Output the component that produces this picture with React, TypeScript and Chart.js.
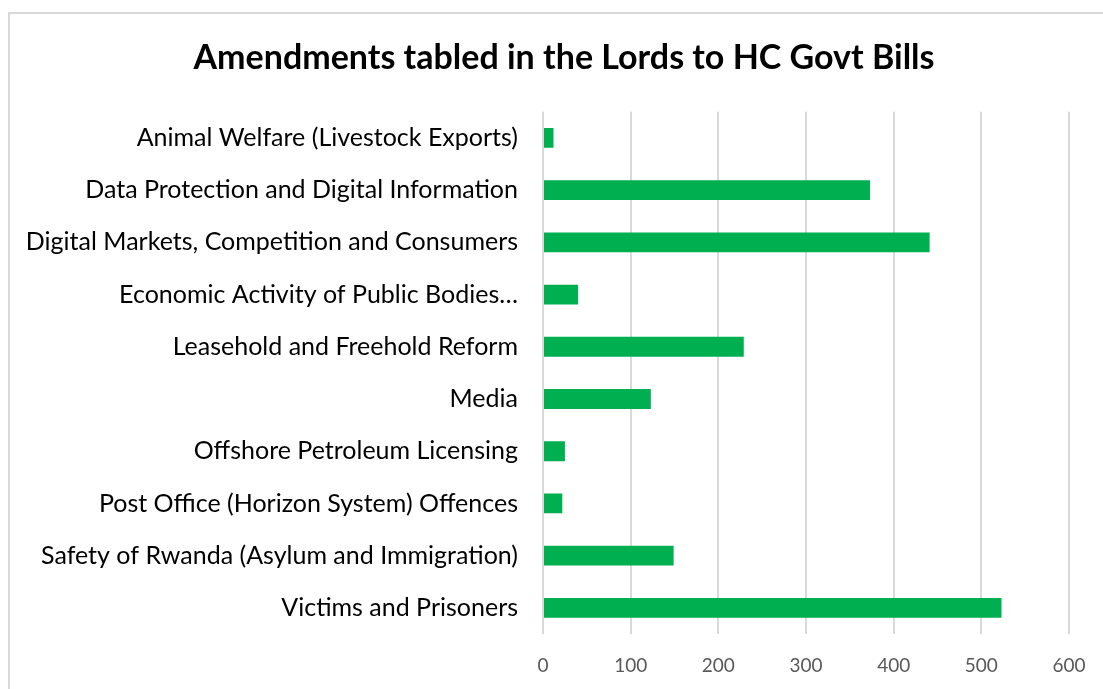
import React, { useEffect, useRef } from "react";
import { Chart, registerables } from "chart.js";

Chart.register(...registerables);

const TITLE = "Amendments tabled in the Lords to HC Govt Bills";
const categories = [
  "Animal Welfare (Livestock Exports)",
  "Data Protection and Digital Information",
  "Digital Markets, Competition and Consumers",
  "Economic Activity of Public Bodies…",
  "Leasehold and Freehold Reform",
  "Media",
  "Offshore Petroleum Licensing",
  "Post Office (Horizon System) Offences",
  "Safety of Rwanda (Asylum and Immigration)",
  "Victims and Prisoners",
];
const amendments = [12, 373, 441, 40, 229, 123, 25, 22, 149, 523];
const xTicks = [0, 100, 200, 300, 400, 500, 600];

export default function App() {
  const ref = useRef<HTMLCanvasElement | null>(null);

  useEffect(() => {
    document.body.style.margin = "0";
    document.body.style.overflow = "hidden";
    const canvas = ref.current;
    if (!canvas) return;
    const chart = new Chart(canvas, {
      type: "bar",
      data: {
        labels: categories,
        datasets: [
          {
            label: "Amendments",
            data: amendments,
            backgroundColor: "#00B050",
            borderWidth: 0,
            barPercentage: 0.76,
            categoryPercentage: 0.5,
          },
        ],
      },
      options: {
        indexAxis: "y",
        animation: false,
        responsive: false,
        maintainAspectRatio: false,
        layout: { padding: { left: 25, right: 0, top: 28, bottom: 0 } },
        plugins: {
          legend: { display: false },
          tooltip: { enabled: false },
          title: {
            display: true,
            text: TITLE,
            color: "#000000",
            font: { family: "Lato", size: 34, weight: "bold" },
            padding: { top: 10, bottom: 33 },
          },
        },
        scales: {
          x: {
            min: 0,
            max: 600,
            afterBuildTicks: (scale: any) => {
              scale.ticks = xTicks.map((v) => ({ value: v }));
            },
            afterFit: (scale: any) => {
              scale.paddingRight = 34;
              scale.height = 55;
            },
            grid: {
              color: "#d9d9d9",
              lineWidth: 2,
              drawTicks: false,
            },
            border: { display: false },
            ticks: {
              color: "#595959",
              padding: 20,
              font: { family: "Lato", size: 19 },
            },
          },
          y: {
            afterFit: (scale: any) => {
              scale.width = 518;
            },
            grid: { display: false, drawTicks: false },
            border: { display: false },
            ticks: {
              color: "#000000",
              padding: 25,
              autoSkip: false,
              font: { family: "Lato", size: 25 },
            },
          },
        },
      },
    });
    return () => chart.destroy();
  }, []);

  return (
    <div style={{ position: "fixed", left: 0, top: 0, width: 1103, height: 689, background: "#fff", overflow: "hidden" }}>
      <div
        style={{
          position: "absolute",
          left: 8,
          top: 12,
          width: 1200,
          height: 800,
          border: "2px solid #d9d9d9",
          boxSizing: "border-box",
        }}
      />
      <canvas ref={ref} width={1103} height={689} style={{ position: "absolute", left: 0, top: 0, width: 1103, height: 689 }} />
    </div>
  );
}
